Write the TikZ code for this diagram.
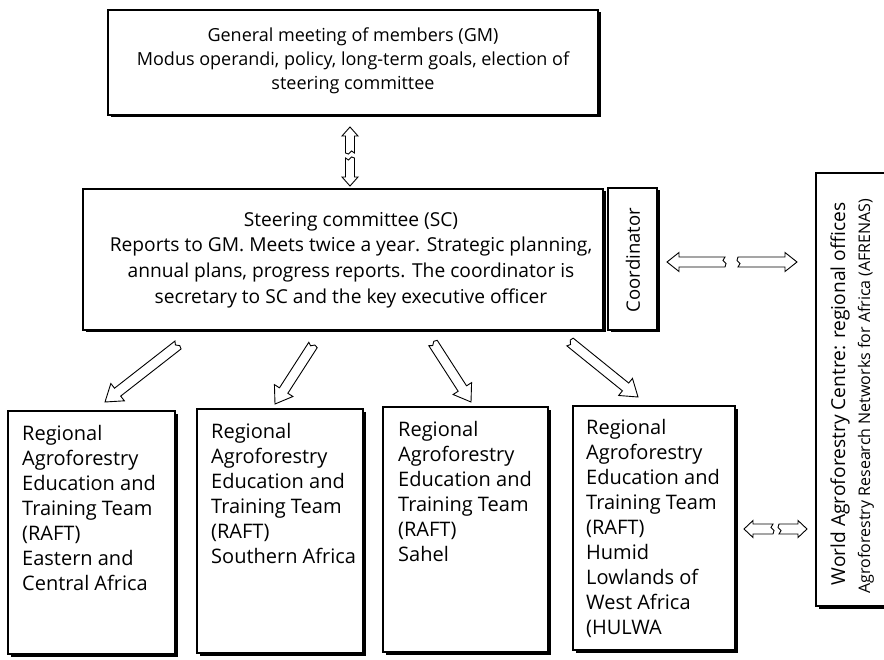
\documentclass[tikz,border=0pt]{standalone}
\usepackage{fontspec}
\setmainfont{Open Sans}
\usetikzlibrary{calc,shadows}
% hollow block arrow with a broken (notched) tail
% #1 tail, #2 tip, #3 shaft half width, #4 head half width, #5 head length, #6 style
\newcommand\hollowarrow[6]{%
  \draw[#6] ($(#1)!#3!90:(#2)$)
    -- ($(#2)!#5!(#1)!#3!-90:(#1)$)
    -- ($(#2)!#5!(#1)!#4!-90:(#1)$)
    -- (#2)
    -- ($(#2)!#5!(#1)!#4!90:(#1)$)
    -- ($(#2)!#5!(#1)!#3!90:(#1)$)
    -- ($(#1)!#3!-90:(#2)$)
    -- ($(#1)!2pt!(#2)!1.6pt!-90:(#2)$)
    -- ($(#1)!-1pt!(#2)!1.6pt!90:(#2)$)
    -- cycle;}
\begin{document}
\begin{tikzpicture}[x=1pt,y=-1pt,
  box/.style={draw, line width=1.2pt, fill=white, rectangle, inner sep=0pt,
    outer sep=0pt, anchor=north west,
    drop shadow={shadow xshift=2.5pt, shadow yshift=-2.5pt, fill=black, opacity=1}},
  rafttext/.style={anchor=north west, align=left, inner sep=0pt,
    font=\fontsize{20}{25}\selectfont},
  bigtext/.style={align=center, inner sep=0pt},
  barrow/.style={draw=black, fill=white, line width=0.9pt, line join=miter}
]
\useasboundingbox (0,0) rectangle (884,660);

% boxes
\node[box, minimum width=490pt, minimum height=105pt] (gm) at (108,10) {};
\node[box, minimum width=520pt, minimum height=141pt] (sc) at (83,189) {};
\node[box, minimum width=49pt, minimum height=142pt] (coord) at (608,188) {};
\node[box, minimum width=90pt, minimum height=433pt] (wac) at (816,173) {};
\node[box, minimum width=167pt, minimum height=243pt] (r1) at (8,411) {};
\node[box, minimum width=166pt, minimum height=244pt] (r2) at (197,409) {};
\node[box, minimum width=165pt, minimum height=245pt] (r3) at (383,407) {};
\node[box, minimum width=162pt, minimum height=244pt] (r4) at (573,406) {};

% texts
\node[bigtext, font=\fontsize{18}{24}\selectfont] (gmtext) at (353,61)
  {General meeting of members (GM)\\
   Modus operandi, policy, long-term goals, election of\\
   steering committee};
\node[bigtext, font=\fontsize{19.2}{25.7}\selectfont] (sctext) at (351,260)
  {Steering committee (SC)\\
   Reports to GM. Meets twice a year. Strategic planning,\\
   annual plans, progress reports. The coordinator is\\
   secretary to SC and the key executive officer};
\node[rotate=90, inner sep=0pt, font=\fontsize{18.5}{22}\selectfont] (coordtext) at (633,260) {Coordinator};
\node[rotate=90, inner sep=0pt, font=\fontsize{19.2}{22}\selectfont] (wac1) at (840,394)
  {World Agroforestry Centre: regional offices};
\node[rotate=90, inner sep=0pt, font=\fontsize{16}{18}\selectfont] (wac2) at (866,396)
  {Agroforestry Research Networks for Africa (AFRENAS)};

\node[rafttext] (t1) at (22,425)
  {Regional\\Agroforestry\\Education and\\Training Team\\(RAFT)\\Eastern and\\Central Africa};
\node[rafttext] (t2) at (211,423)
  {Regional\\Agroforestry\\Education and\\Training Team\\(RAFT)\\Southern Africa};
\node[rafttext] (t3) at (398,421)
  {Regional\\Agroforestry\\Education and\\Training Team\\(RAFT)\\Sahel};
\node[rafttext] (t4) at (586,419)
  {Regional\\Agroforestry\\Education and\\Training Team\\(RAFT)\\Humid\\Lowlands of\\West Africa\\(HULWA};

% connector end points
\coordinate (gmA) at (350,153); \coordinate (gmTip) at (350,127);
\coordinate (scA) at (350,158); \coordinate (scTip) at (350,186);
\coordinate (coA) at (725,262); \coordinate (coTip) at (667,262);
\coordinate (waA) at (738,262); \coordinate (waTip) at (797,262);
\coordinate (r4A) at (773,529); \coordinate (r4Tip) at (744,529);
\coordinate (w4A) at (779,529); \coordinate (w4Tip) at (807,529);
\coordinate (d1A) at (178,345); \coordinate (d1Tip) at (105,402);
\coordinate (d2A) at (313,345); \coordinate (d2Tip) at (275,404);
\coordinate (d3A) at (433,343); \coordinate (d3Tip) at (471,402);
\coordinate (d4A) at (570,342); \coordinate (d4Tip) at (638,397);

% double arrows
\hollowarrow{gmA}{gmTip}{4.5pt}{8pt}{9pt}{barrow}
\hollowarrow{scA}{scTip}{4.5pt}{8pt}{9pt}{barrow}
\hollowarrow{coA}{coTip}{5pt}{9.5pt}{12pt}{barrow}
\hollowarrow{waA}{waTip}{5pt}{9.5pt}{12pt}{barrow}
\hollowarrow{r4A}{r4Tip}{5pt}{8.5pt}{9pt}{barrow}
\hollowarrow{w4A}{w4Tip}{5pt}{8.5pt}{9pt}{barrow}
% arrows from SC to RAFTs
\hollowarrow{d1A}{d1Tip}{5pt}{11pt}{16pt}{barrow}
\hollowarrow{d2A}{d2Tip}{5pt}{11pt}{16pt}{barrow}
\hollowarrow{d3A}{d3Tip}{5pt}{11pt}{16pt}{barrow}
\hollowarrow{d4A}{d4Tip}{5pt}{11pt}{16pt}{barrow}
\end{tikzpicture}
\end{document}
